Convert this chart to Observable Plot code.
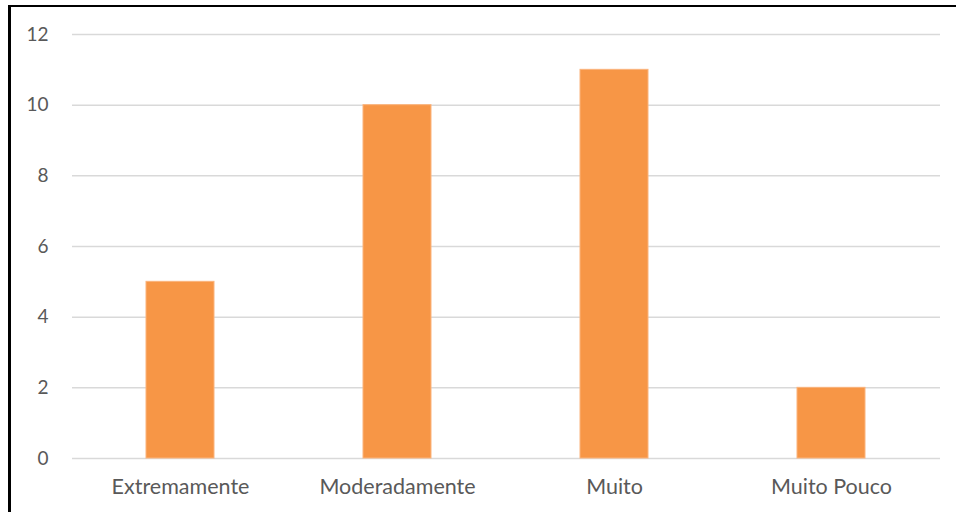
<!DOCTYPE html>
<html>
<head>
<meta charset="utf-8">
<script src="https://cdn.jsdelivr.net/npm/d3@7"></script>
<script src="https://cdn.jsdelivr.net/npm/@observablehq/plot@0.6"></script>
<style>
  html, body { margin: 0; padding: 0; background: #fff; overflow: hidden; }
  #wrap { position: relative; width: 956px; height: 512px; }
  #border { position: absolute; left: 8px; top: 5px; width: 960px; height: 520px;
            border-left: 3px solid #000; border-top: 2px solid #000; pointer-events: none; }
</style>
</head>
<body>
<div id="wrap"><div id="border"></div></div>
<script>
const categories = ["Extremamente", "Moderadamente", "Muito", "Muito Pouco"];
const values = [5, 10, 11, 2];
const yTicks = [0, 2, 4, 6, 8, 10, 12];

const data = categories.map((c, i) => ({category: c, value: values[i]}));

const chart = Plot.plot({
  width: 956,
  height: 512,
  marginLeft: 72,
  marginRight: 16,
  marginTop: 34,
  marginBottom: 54,
  style: {fontFamily: "Lato, 'Open Sans', sans-serif", fontSize: "19px", color: "#595959", background: "transparent"},
  x: {domain: categories, paddingInner: 0.686, paddingOuter: 0.343, label: null},
  y: {domain: [0, 12], label: null},
  marks: [
    Plot.gridY(yTicks, {stroke: "#d9d9d9", strokeOpacity: 1, strokeWidth: 1.5}),
    Plot.barY(data, {x: "category", y: "value", fill: "#f79646", stroke: "#fbb47c", strokeWidth: 1}),
    Plot.axisY(yTicks, {tickSize: 0, tickPadding: 24, fill: "#595959", label: null}),
    Plot.axisX({tickSize: 0, tickPadding: 20, fill: "#595959", fontSize: 21.5, label: null})
  ]
});
document.getElementById("wrap").prepend(chart);
</script>
</body>
</html>
